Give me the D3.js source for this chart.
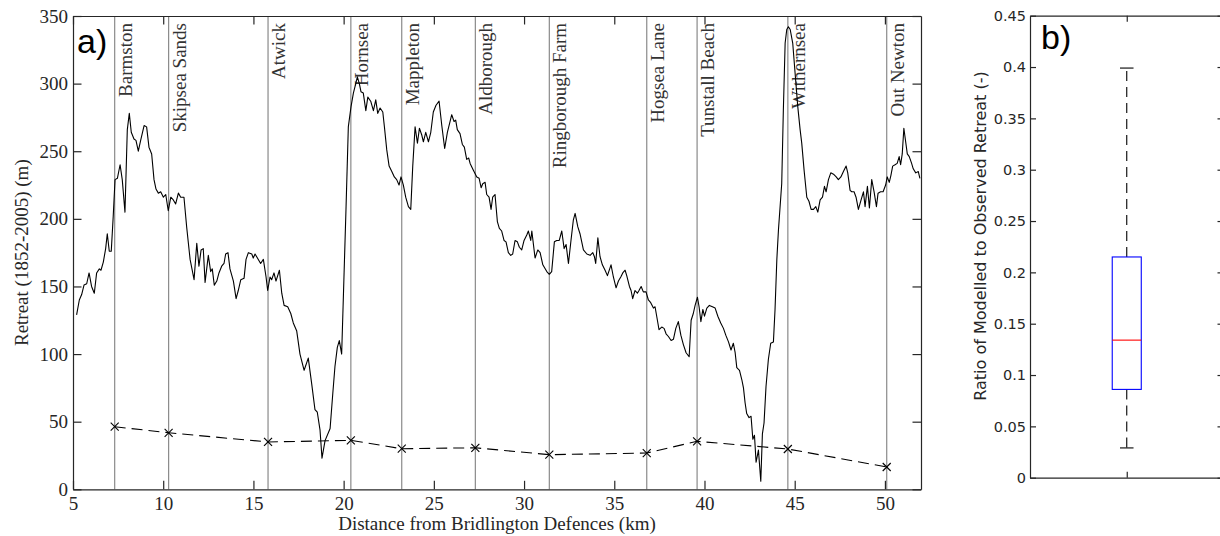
<!DOCTYPE html>
<html>
<head>
<meta charset="utf-8">
<script src="https://cdn.jsdelivr.net/npm/d3@7"></script>
<style>
  html, body { margin: 0; padding: 0; background: #fff; }
  svg { display: block; }
</style>
</head>
<body>
<svg id="chart" width="1220" height="536"></svg>
<script>
// ---------------- DATA ----------------
const distanceKm = [5.20,5.35,5.48,5.61,5.76,5.89,6.03,6.18,6.31,6.46,6.55,6.68,6.81,6.90,7.01,7.12,7.23,7.33,7.46,7.61,7.73,7.88,8.01,8.12,8.23,8.38,8.49,8.62,8.75,8.94,9.08,9.21,9.36,9.49,9.60,9.73,9.86,10.01,10.14,10.28,10.42,10.56,10.69,10.84,10.97,11.15,11.30,11.49,11.71,11.86,11.98,12.10,12.22,12.32,12.50,12.63,12.72,12.83,12.97,13.09,13.24,13.37,13.46,13.59,13.70,13.89,14.04,14.16,14.30,14.48,14.59,14.72,14.91,14.99,15.09,15.27,15.40,15.55,15.70,15.79,15.92,16.01,16.14,16.25,16.44,16.57,16.70,16.90,17.07,17.21,17.40,17.58,17.81,18.04,18.23,18.41,18.54,18.69,18.80,18.97,19.25,19.40,19.52,19.65,19.76,19.89,19.98,20.13,20.26,20.41,20.54,20.69,20.76,20.87,20.96,21.09,21.23,21.34,21.50,21.65,21.78,21.89,22.02,22.17,22.26,22.39,22.52,22.67,22.81,22.94,23.07,23.18,23.31,23.44,23.59,23.72,23.83,23.96,24.09,24.20,24.33,24.42,24.55,24.70,24.83,24.97,25.12,25.29,25.44,25.60,25.75,25.90,25.99,26.12,26.21,26.30,26.45,26.58,26.69,26.82,26.93,27.01,27.19,27.38,27.51,27.62,27.71,27.84,27.93,28.06,28.17,28.26,28.39,28.52,28.63,28.76,28.89,29.00,29.13,29.26,29.37,29.50,29.63,29.74,29.87,30.00,30.15,30.24,30.37,30.43,30.61,30.76,30.89,31.04,31.26,31.40,31.53,31.68,31.81,31.95,32.09,32.22,32.33,32.46,32.60,32.73,32.83,32.98,33.10,33.29,33.48,33.66,33.81,33.90,33.97,34.09,34.21,34.34,34.49,34.62,34.82,34.95,35.10,35.23,35.36,35.47,35.60,35.69,35.84,35.93,36.02,36.15,36.28,36.37,36.49,36.61,36.76,36.89,37.02,37.17,37.26,37.39,37.48,37.63,37.76,37.87,38.00,38.15,38.28,38.41,38.55,38.69,38.83,38.98,39.15,39.26,39.38,39.48,39.61,39.70,39.80,39.91,40.00,40.13,40.27,40.44,40.59,40.74,40.90,41.05,41.18,41.33,41.47,41.60,41.70,41.79,41.94,42.07,42.16,42.25,42.34,42.47,42.58,42.68,42.77,42.86,42.99,43.12,43.21,43.30,43.41,43.54,43.67,43.82,43.91,44.01,44.10,44.28,44.37,44.47,44.56,44.65,44.75,44.89,45.02,45.17,45.30,45.39,45.52,45.67,45.79,45.91,46.04,46.17,46.28,46.41,46.54,46.65,46.74,46.87,47.00,47.15,47.30,47.42,47.56,47.70,47.85,47.94,48.07,48.16,48.29,48.40,48.53,48.68,48.81,48.90,49.03,49.14,49.27,49.40,49.53,49.62,49.76,49.90,50.04,50.13,50.24,50.33,50.43,50.56,50.68,50.79,50.87,50.96,51.05,51.15,51.24,51.35,51.48,51.57,51.71,51.85,51.94];
const observedRetreat = [129,140,144,151,152,160,150,145,160,163,162,168,178,189,176,176,202,229,230,240,229,205,266,278,264,259,258,250,258,269,268,253,248,229,222,219,220,216,218,206,216,214,211,219,216,216,194,170,155,182,165,177,178,153,173,161,163,151,154,160,165,167,174,175,163,154,141,147,155,156,170,175,174,171,174,170,167,170,157,147,157,155,160,154,162,145,136,135,130,123,117,100,88,97,78,59,57,44,23,36,45,71,91,105,110,100,140,207,268,283,293,301,305,300,294,293,280,290,287,280,288,278,282,279,268,251,239,235,231,229,225,231,225,216,209,207,239,268,256,267,262,257,264,257,264,279,284,287,269,252,264,272,277,272,273,266,263,255,253,244,245,241,236,231,230,223,226,227,218,216,207,216,218,198,193,191,184,183,175,173,174,184,183,179,177,184,188,191,184,191,171,177,175,166,161,159,161,183,184,184,191,178,181,167,184,199,204,194,189,177,174,173,175,172,167,186,172,166,162,158,166,157,149,154,157,160,162,158,150,147,141,147,145,147,150,146,146,140,138,134,135,125,118,120,119,115,113,110,111,119,124,114,107,101,98,125,130,136,142,135,124,133,128,134,136,135,134,128,123,119,114,109,103,108,101,90,88,81,75,64,56,53,54,37,40,20,29,6,41,49,76,96,108,109,133,170,192,226,280,330,340,342,340,330,308,283,266,256,236,216,213,207,207,209,205,214,216,224,220,229,234,233,231,229,231,235,239,234,221,220,220,216,207,214,220,209,224,208,229,220,209,219,220,220,225,231,227,232,239,240,241,246,240,248,267,257,248,246,241,237,234,235,230];

const siteNames = ["Barmston","Skipsea Sands","Atwick","Hornsea","Mappleton","Aldborough","Ringborough Farm","Hogsea Lane","Tunstall Beach","Withernsea","Out Newton"];
const siteKm = [7.31,10.30,15.81,20.40,23.22,27.30,31.40,36.80,39.59,44.62,50.10];
const modelledRetreat = [46.3,41.8,35.0,36.2,30.0,30.7,25.6,26.8,35.5,29.8,16.5];

const xTicksA = [5,10,15,20,25,30,35,40,45,50];
const yTicksA = [0,50,100,150,200,250,300,350];

// box plot statistics (panel b)
const ratioStats = {whiskerLow: 0.029, q1: 0.086, median: 0.134, q3: 0.215, whiskerHigh: 0.399};
const yTicksB = [0,0.05,0.1,0.15,0.2,0.25,0.3,0.35,0.4,0.45];

// ---------------- DRAW ----------------
const svg = d3.select("#chart");
svg.append("rect").attr("width",1220).attr("height",536).attr("fill","#fff");

const serif = "'Liberation Serif', 'Times New Roman', serif";
const sans = "'DejaVu Sans', sans-serif";
const axisCol = "#262626";

// ---- Panel a ----
const A = {left:73, right:921, top:16, bottom:489.3};
const x = d3.scaleLinear().domain([5,52]).range([A.left, A.right]);
const y = d3.scaleLinear().domain([0,350]).range([A.bottom, A.top]);

const gA = svg.append("g");

// site vertical lines
gA.selectAll("line.site").data(siteKm).join("line")
  .attr("class","site")
  .attr("x1", d => x(d)).attr("x2", d => x(d))
  .attr("y1", A.top).attr("y2", A.bottom)
  .attr("stroke","#8a8a8a").attr("stroke-width",1.2);

// site labels
gA.selectAll("text.site").data(siteNames).join("text")
  .attr("class","site")
  .attr("transform", (d,i) => `translate(${x(siteKm[i]) + 17},${A.top + 7}) rotate(-90)`)
  .attr("text-anchor","end")
  .attr("font-family", serif).attr("font-size", 19).attr("fill","#333")
  .text(d => d);

// observed line
const pts = distanceKm.map((d,i) => [d, observedRetreat[i]]);
gA.append("path").datum(pts)
  .attr("fill","none").attr("stroke","#000").attr("stroke-width",1.1)
  .attr("stroke-linejoin","round")
  .attr("d", d3.line().x(d => x(d[0])).y(d => y(d[1])));

// modelled dashed line
const mpts = siteKm.map((d,i) => [d, modelledRetreat[i]]);
gA.append("path").datum(mpts)
  .attr("fill","none").attr("stroke","#000").attr("stroke-width",1.1)
  .attr("stroke-dasharray","11,6")
  .attr("d", d3.line().x(d => x(d[0])).y(d => y(d[1])));
const ms = 4;
const mk = gA.selectAll("g.mk").data(mpts).join("g")
  .attr("transform", d => `translate(${x(d[0])},${y(d[1])})`);
mk.append("line").attr("x1",-ms).attr("y1",-ms).attr("x2",ms).attr("y2",ms).attr("stroke","#000").attr("stroke-width",1.1);
mk.append("line").attr("x1",-ms).attr("y1",ms).attr("x2",ms).attr("y2",-ms).attr("stroke","#000").attr("stroke-width",1.1);

// axes
function styleAxis(g, fontFamily, fontSize) {
  g.selectAll("path.domain").attr("stroke", axisCol).attr("stroke-width", 1.2);
  g.selectAll(".tick line").attr("stroke", axisCol).attr("stroke-width", 1.2);
  g.selectAll(".tick text").attr("fill", axisCol).attr("font-family", fontFamily).attr("font-size", fontSize);
  g.attr("font-family", fontFamily).attr("font-size", fontSize);
}
const tl = 8.5;
const axB = gA.append("g").attr("transform",`translate(0,${A.bottom})`)
  .call(d3.axisBottom(x).tickValues(xTicksA).tickSizeInner(-tl).tickSizeOuter(0).tickPadding(6).tickFormat(d3.format("d")));
styleAxis(axB, serif, 19);
axB.selectAll(".tick text").attr("dy","0.8em");
const axT = gA.append("g").attr("transform",`translate(0,${A.top})`)
  .call(d3.axisTop(x).tickValues(xTicksA).tickSizeInner(-tl).tickSizeOuter(0).tickFormat(""));
styleAxis(axT, serif, 19);
const axL = gA.append("g").attr("transform",`translate(${A.left},0)`)
  .call(d3.axisLeft(y).tickValues(yTicksA).tickSizeInner(-tl).tickSizeOuter(0).tickPadding(5).tickFormat(d3.format("d")));
styleAxis(axL, serif, 19);
const axR = gA.append("g").attr("transform",`translate(${A.right},0)`)
  .call(d3.axisRight(y).tickValues(yTicksA).tickSizeInner(-tl).tickSizeOuter(0).tickFormat(""));
styleAxis(axR, serif, 19);

// titles
gA.append("text").attr("x", (A.left + A.right)/2).attr("y", 530)
  .attr("text-anchor","middle").attr("font-family", serif).attr("font-size", 19).attr("fill", axisCol)
  .text("Distance from Bridlington Defences (km)");
gA.append("text").attr("transform", `translate(28,${(A.top + A.bottom)/2}) rotate(-90)`)
  .attr("text-anchor","middle").attr("font-family", serif).attr("font-size", 19).attr("fill", axisCol)
  .text("Retreat (1852-2005) (m)");
gA.append("text").attr("x", 77).attr("y", 53)
  .attr("font-family", "'Liberation Sans', sans-serif").attr("font-size", 34).attr("fill","#000")
  .text("a)");

// ---- Panel b ----
const B = {left:1030, right:1223.5, top:15.7, bottom:477.7};
const xb = d3.scaleLinear().domain([0.5,1.5]).range([B.left, B.right]);
const yb = d3.scaleLinear().domain([0,0.45]).range([B.bottom, B.top]);
const gB = svg.append("g");

const tlb = 6;
const bL = gB.append("g").attr("transform",`translate(${B.left},0)`)
  .call(d3.axisLeft(yb).tickValues(yTicksB).tickSizeInner(-tlb).tickSizeOuter(0).tickPadding(4).tickFormat(d => d3.format("")(+d.toFixed(2))));
styleAxis(bL, sans, 14.5);
const bR = gB.append("g").attr("transform",`translate(${B.right},0)`)
  .call(d3.axisRight(yb).tickValues(yTicksB).tickSizeInner(-tlb).tickSizeOuter(0).tickFormat(""));
styleAxis(bR, sans, 14.5);
const bB = gB.append("g").attr("transform",`translate(0,${B.bottom})`)
  .call(d3.axisBottom(xb).tickValues([1]).tickSizeInner(-tlb).tickSizeOuter(0).tickFormat(""));
styleAxis(bB, sans, 14.5);
const bT = gB.append("g").attr("transform",`translate(0,${B.top})`)
  .call(d3.axisTop(xb).tickValues([1]).tickSizeInner(-tlb).tickSizeOuter(0).tickFormat(""));
styleAxis(bT, sans, 14.5);

const cx = xb(1), boxHalf = xb(1.075) - xb(1), capHalf = xb(1.035) - xb(1);
// whiskers (dashed)
gB.append("line").attr("x1",cx).attr("x2",cx).attr("y1",yb(ratioStats.q3)).attr("y2",yb(ratioStats.whiskerHigh))
  .attr("stroke","#000").attr("stroke-width",1.1).attr("stroke-dasharray","10,6");
gB.append("line").attr("x1",cx).attr("x2",cx).attr("y1",yb(ratioStats.q1)).attr("y2",yb(ratioStats.whiskerLow))
  .attr("stroke","#000").attr("stroke-width",1.1).attr("stroke-dasharray","10,6");
// caps
[ratioStats.whiskerHigh, ratioStats.whiskerLow].forEach(v => {
  gB.append("line").attr("x1",cx-capHalf).attr("x2",cx+capHalf).attr("y1",yb(v)).attr("y2",yb(v))
    .attr("stroke","#000").attr("stroke-width",1.1);
});
// box
gB.append("rect").attr("x",cx-boxHalf).attr("width",2*boxHalf)
  .attr("y",yb(ratioStats.q3)).attr("height",yb(ratioStats.q1)-yb(ratioStats.q3))
  .attr("fill","none").attr("stroke","#0000ff").attr("stroke-width",1.1);
// median
gB.append("line").attr("x1",cx-boxHalf).attr("x2",cx+boxHalf).attr("y1",yb(ratioStats.median)).attr("y2",yb(ratioStats.median))
  .attr("stroke","#ff0000").attr("stroke-width",1.1);

gB.append("text").attr("transform", `translate(986,236) rotate(-90)`)
  .attr("text-anchor","middle").attr("font-family", sans).attr("font-size", 16).attr("fill", axisCol)
  .text("Ratio of Modelled to Observed Retreat (-)");
gB.append("text").attr("x", 1041).attr("y", 49)
  .attr("font-family", "'Liberation Sans', sans-serif").attr("font-size", 34).attr("fill","#000")
  .text("b)");
</script>
</body>
</html>
